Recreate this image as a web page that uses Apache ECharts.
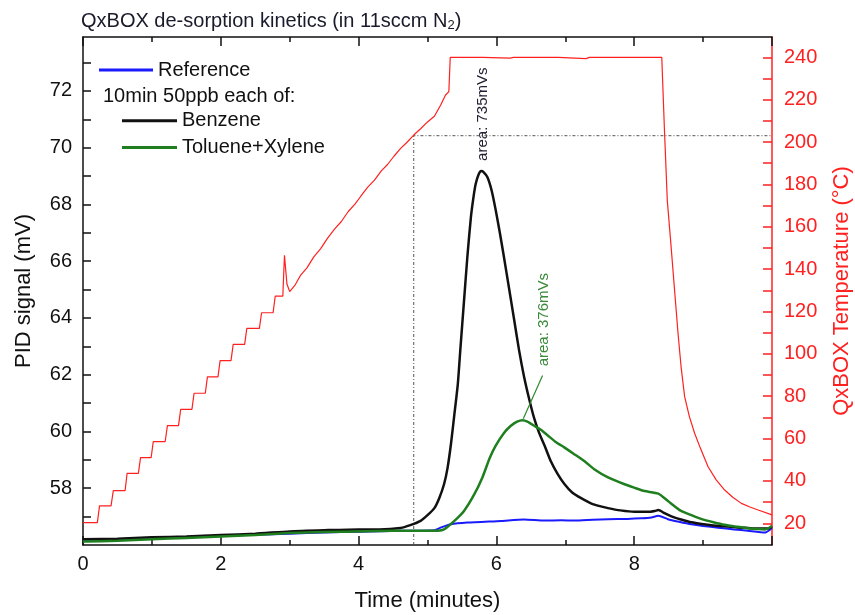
<!DOCTYPE html>
<html>
<head>
<meta charset="utf-8">
<script src="https://cdn.jsdelivr.net/npm/echarts@6/dist/echarts.min.js"></script>
<style>
  html, body { margin: 0; padding: 0; background: #ffffff; }
  #chart { width: 855px; height: 615px; }
</style>
</head>
<body>
<div id="chart"></div>
<script>
// PID signal (mV) vs time (minutes)
const reference = [
  [0, 56.18], [0.5, 56.2], [1, 56.24], [1.5, 56.28], [2, 56.32], [2.5, 56.36], [3, 56.4],
  [3.5, 56.44], [4, 56.47], [4.61, 56.5], [5.1, 56.52], [5.2, 56.62], [5.34, 56.73],
  [5.58, 56.79], [6.07, 56.85], [6.4, 56.9], [6.7, 56.86], [6.94, 56.87], [7.13, 56.86],
  [7.4, 56.89], [7.62, 56.91], [7.9, 56.92], [8.1, 56.94], [8.25, 56.97], [8.35, 57.03],
  [8.49, 56.91], [8.65, 56.82], [8.83, 56.73], [9.0, 56.67], [9.22, 56.61], [9.45, 56.55],
  [9.65, 56.5], [9.9, 56.44], [10.0, 56.6]
];
const benzene = [
  [0, 56.2], [0.5, 56.22], [1, 56.27], [1.5, 56.3], [2, 56.35], [2.5, 56.4], [3, 56.48],
  [3.5, 56.52], [4, 56.55], [4.3, 56.55], [4.61, 56.6], [4.75, 56.7], [4.9, 56.85],
  [5.0, 57.05], [5.1, 57.3], [5.17, 57.65], [5.24, 58.14], [5.29, 58.7], [5.34, 59.55],
  [5.39, 60.6], [5.44, 61.67], [5.48, 63.0], [5.53, 64.6], [5.58, 66.2], [5.63, 67.55],
  [5.67, 68.3], [5.7, 68.73], [5.74, 69.05], [5.78, 69.18], [5.81, 69.15], [5.87, 68.96],
  [5.93, 68.5], [5.99, 67.8], [6.05, 67.0], [6.11, 66.14], [6.19, 64.95], [6.26, 63.9],
  [6.33, 62.85], [6.4, 61.95], [6.48, 61.1], [6.55, 60.45], [6.62, 59.95], [6.7, 59.5],
  [6.79, 58.95], [6.89, 58.5], [6.99, 58.14], [7.1, 57.85], [7.23, 57.65], [7.38, 57.46],
  [7.5, 57.37], [7.62, 57.3], [7.8, 57.22], [8.0, 57.17], [8.2, 57.17], [8.3, 57.2],
  [8.35, 57.23], [8.44, 57.12], [8.55, 57.0], [8.68, 56.9], [8.83, 56.8], [8.98, 56.74],
  [9.15, 56.69], [9.31, 56.66], [9.5, 56.62], [9.65, 56.6], [9.8, 56.58], [9.95, 56.58],
  [10.0, 56.66]
];
const tolueneXylene = [
  [0, 56.12], [0.5, 56.15], [1, 56.2], [1.5, 56.25], [2, 56.3], [2.5, 56.35], [3, 56.42],
  [3.5, 56.46], [4, 56.48], [4.5, 56.5], [5.0, 56.5], [5.1, 56.5], [5.24, 56.55],
  [5.39, 56.85], [5.53, 57.2], [5.68, 57.79], [5.8, 58.4], [5.9, 59.05], [5.99, 59.5],
  [6.11, 59.95], [6.21, 60.2], [6.3, 60.35], [6.38, 60.4], [6.45, 60.35],
  [6.55, 60.2], [6.65, 60.05], [6.75, 59.85], [6.85, 59.65], [6.99, 59.43], [7.13, 59.2],
  [7.28, 58.95], [7.42, 58.67], [7.62, 58.38], [7.86, 58.14], [8.0, 58.02], [8.15, 57.9],
  [8.35, 57.81], [8.49, 57.55], [8.68, 57.2], [8.83, 57.05], [8.98, 56.91], [9.15, 56.8],
  [9.31, 56.71], [9.5, 56.64], [9.65, 56.59], [9.8, 56.56], [9.9, 56.55], [10.0, 56.67]
];
// QxBOX temperature (°C) vs time (minutes)
const temperature = [
  [0, 20.3], [0.208, 20.3], [0.24, 28.2], [0.407, 28.2], [0.44, 35.4], [0.611, 35.4],
  [0.64, 43.6], [0.804, 43.6], [0.835, 51.0], [0.989, 51.0], [1.02, 58.6], [1.193, 58.6],
  [1.225, 66.1], [1.386, 66.1], [1.418, 73.8], [1.581, 73.8], [1.612, 81.4], [1.775, 81.4],
  [1.806, 89.1], [1.959, 89.1], [1.99, 96.8], [2.148, 96.8], [2.18, 104.5], [2.346, 104.5],
  [2.378, 112.0], [2.56, 112.0], [2.592, 119.4], [2.759, 119.4], [2.79, 127.3], [2.9, 127.3],
  [2.924, 146.5], [2.96, 133.0], [3.0, 129.4], [3.08, 132.6], [3.156, 137.0], [3.25, 140.6],
  [3.35, 145.8], [3.45, 149.7], [3.545, 154.4], [3.65, 158.9], [3.75, 162.5], [3.85, 167.2],
  [3.95, 170.8], [4.029, 174.3], [4.13, 178.6], [4.23, 182.0], [4.33, 186.4], [4.42, 189.4],
  [4.513, 193.3], [4.61, 197.0], [4.7, 199.8], [4.8, 203.3], [4.9, 206.3], [5.0, 209.5],
  [5.1, 212.2], [5.19, 217.4], [5.26, 222.1], [5.31, 223.8], [5.33, 240.0], [5.8, 240.0],
  [6.2, 239.6], [6.25, 240.0], [6.9, 240.0], [7.3, 239.4], [7.35, 240.0], [8.0, 240.0],
  [8.4, 240.0], [8.441, 204.1], [8.48, 172.6], [8.528, 153.7], [8.586, 130.1], [8.636, 109.7],
  [8.68, 94.0], [8.732, 79.8], [8.8, 70.5], [8.877, 62.5], [8.96, 55.5], [9.072, 46.7],
  [9.19, 40.5], [9.313, 35.7], [9.43, 32.3], [9.556, 29.4], [9.68, 27.7], [9.799, 26.3],
  [10.0, 24.0]
];
// start of the 240 °C reading, at 4.8 min / 203 °C
const guide = [[4.8, 9.75], [4.8, 203], [10, 203]];
// pointer from the toluene+xylene peak to its area label
const leader = [[6.39, 60.45], [6.67, 61.97]];

const pidTicks = [57, 58, 59, 60, 61, 62, 63, 64, 65, 66, 67, 68, 69, 70, 71, 72, 73];
const pidLabels = [58, 60, 62, 64, 66, 68, 70, 72];
const tempTicks = [20, 30, 40, 50, 60, 70, 80, 90, 100, 110, 120, 130, 140, 150, 160, 170, 180, 190, 200, 210, 220, 230, 240];
const tempLabels = [20, 40, 60, 80, 100, 120, 140, 160, 180, 200, 220, 240];

const FONT = "'Liberation Sans', Arial, Helvetica, sans-serif";
const INK = '#111111';
const RED = '#ff2020';

const chart = echarts.init(document.getElementById('chart'), null, { renderer: 'canvas' });

const xCommon = {
  type: 'value', min: 0, max: 10, interval: 2,
  axisLine: { show: true, onZero: false, lineStyle: { color: INK, width: 1.5 } },
  axisTick: { show: true, inside: true, length: 9, lineStyle: { color: INK, width: 1.5 } },
  minorTick: { show: true, splitNumber: 2, length: 5, lineStyle: { color: INK, width: 1.5 } },
  splitLine: { show: false }, minorSplitLine: { show: false }
};

const option = {
  animation: false,
  backgroundColor: '#ffffff',
  textStyle: { fontFamily: FONT },
  title: {
    text: 'QxBOX de-sorption kinetics (in 11sccm N{sub|2})',
    left: 81, top: 10, padding: 0,
    textStyle: {
      fontSize: 20, fontWeight: 'normal', color: '#1a1a2a', fontFamily: FONT,
      rich: { sub: { fontSize: 13, padding: [9, 0, 0, 0], color: '#1a1a2a', fontFamily: FONT } }
    }
  },
  legend: [
    {
      data: ['Reference'], left: 99, top: 60, padding: 0,
      icon: 'rect', itemWidth: 54, itemHeight: 3,
      textStyle: { fontSize: 20, color: INK, fontFamily: FONT, lineHeight: 20 }
    },
    {
      data: ['Benzene', 'Toluene+Xylene'], orient: 'vertical', left: 122, top: 110.7, padding: 0,
      icon: 'rect', itemWidth: 55, itemHeight: 3, itemGap: 6.7,
      textStyle: { fontSize: 20, color: INK, fontFamily: FONT, lineHeight: 20 }
    }
  ],
  grid: { left: 83, right: 83, top: 37, bottom: 70, containLabel: false, outerBoundsMode: 'none' },
  xAxis: [
    Object.assign({}, xCommon, {
      position: 'bottom',
      axisLabel: {
        show: true, margin: 9, fontSize: 20, color: INK, fontFamily: FONT,
        formatter: v => (v >= 10 ? '' : String(v))
      },
      name: 'Time (minutes)', nameLocation: 'middle', nameGap: 45, nameMoveOverlap: false,
      nameTextStyle: { fontSize: 22, color: INK, fontFamily: FONT }
    }),
    Object.assign({}, xCommon, {
      position: 'top',
      axisLabel: { show: false }
    })
  ],
  yAxis: [
    {
      type: 'value', position: 'left', min: 56, max: 73.9, interval: 2,
      axisLine: { show: true, onZero: false, lineStyle: { color: INK, width: 1.5 } },
      axisTick: { show: true, inside: true, length: 8, customValues: pidTicks, lineStyle: { color: INK, width: 1.5 } },
      axisLabel: { show: true, customValues: pidLabels, margin: 11, fontSize: 20, color: INK, fontFamily: FONT },
      splitLine: { show: false },
      name: 'PID signal (mV)', nameLocation: 'middle', nameGap: 48, nameMoveOverlap: false,
      nameTextStyle: { fontSize: 22, color: INK, fontFamily: FONT }
    },
    {
      type: 'value', position: 'right', min: 9.75, max: 249.6,
      axisLine: { show: true, onZero: false, lineStyle: { color: RED, width: 1.5 } },
      axisTick: { show: true, inside: true, length: 9, customValues: tempTicks, lineStyle: { color: RED, width: 1.5 } },
      axisLabel: { show: true, customValues: tempLabels, margin: 12, fontSize: 20, color: RED, fontFamily: FONT },
      splitLine: { show: false },
      name: 'QxBOX Temperature (°C)', nameLocation: 'middle', nameGap: 59, nameMoveOverlap: false,
      nameTextStyle: { fontSize: 22, color: RED, fontFamily: FONT }
    }
  ],
  series: [
    {
      name: 'Temperature', type: 'line', xAxisIndex: 0, yAxisIndex: 1, data: temperature,
      symbol: 'none', lineStyle: { color: RED, width: 1.2 }, itemStyle: { color: RED }, z: 2
    },
    {
      name: 'guide', type: 'line', xAxisIndex: 0, yAxisIndex: 1, data: guide, silent: true,
      symbol: 'none', lineStyle: { color: '#555555', width: 1, type: [3, 2, 1, 2] }, z: 1
    },
    {
      name: 'Reference', type: 'line', xAxisIndex: 0, yAxisIndex: 0, data: reference,
      symbol: 'none', smooth: 0.2,
      lineStyle: { color: '#1a1aff', width: 2 }, itemStyle: { color: '#1a1aff' }, z: 3
    },
    {
      name: 'Benzene', type: 'line', xAxisIndex: 0, yAxisIndex: 0, data: benzene,
      symbol: 'none', smooth: 0.2,
      lineStyle: { color: '#111111', width: 2.5 }, itemStyle: { color: '#111111' }, z: 4
    },
    {
      name: 'Toluene+Xylene', type: 'line', xAxisIndex: 0, yAxisIndex: 0, data: tolueneXylene,
      symbol: 'none', smooth: 0.2,
      lineStyle: { color: '#1f7f1f', width: 2.5 }, itemStyle: { color: '#1f7f1f' }, z: 5
    },
    {
      name: 'leader', type: 'line', xAxisIndex: 0, yAxisIndex: 0, data: leader, silent: true,
      symbol: 'none', lineStyle: { color: '#2e8a2e', width: 1.2 }, z: 5
    }
  ]
};

chart.setOption(option);

// Rotated area labels, anchored in data space above each peak
const benzeneLabelAt = chart.convertToPixel({ gridIndex: 0 }, [5.80, 71.18]);
const tolueneLabelAt = chart.convertToPixel({ gridIndex: 0 }, [6.69, 63.94]);

chart.setOption({
  graphic: [
    {
      type: 'text', left: 103, top: 86,
      style: { text: '10min 50ppb each of:', fontSize: 20, fill: INK, fontFamily: FONT }
    },
    {
      type: 'text', x: benzeneLabelAt[0], y: benzeneLabelAt[1], rotation: Math.PI / 2,
      style: { text: 'area: 735mVs', fontSize: 15, fill: '#222233', fontFamily: FONT, align: 'center', verticalAlign: 'middle' }
    },
    {
      type: 'text', x: tolueneLabelAt[0], y: tolueneLabelAt[1], rotation: Math.PI / 2,
      style: { text: 'area: 376mVs', fontSize: 15, fill: '#3a8a3a', fontFamily: FONT, align: 'center', verticalAlign: 'middle' }
    }
  ]
});
</script>
</body>
</html>
